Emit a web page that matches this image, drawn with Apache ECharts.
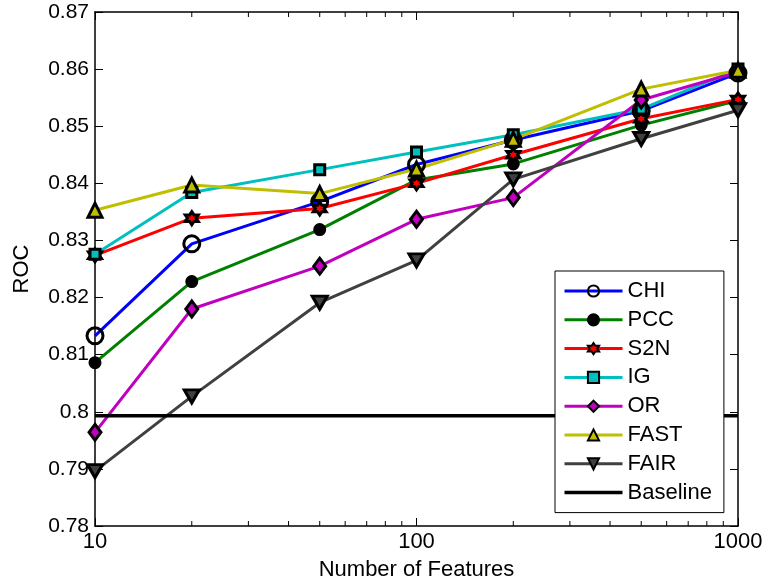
<!DOCTYPE html>
<html style="height: 100%">
<head>
<meta charset="utf-8">
<title>ROC vs Number of Features</title>
<script src="https://cdn.jsdelivr.net/npm/echarts@6/dist/echarts.min.js"></script>
</head>
<body style="height: 100%; margin: 0; background-color: #fff;">
<div id="container" style="width: 769px; height: 586px;"></div>
<script type="text/javascript">
// data
var features = [10, 20, 50, 100, 200, 500, 1000];
var chi  = [0.8133, 0.8294, 0.8368, 0.8433, 0.8476, 0.8527, 0.8593];
var pcc  = [0.8086, 0.8228, 0.8319, 0.8406, 0.8434, 0.8502, 0.8545];
var s2n  = [0.8274, 0.8339, 0.8356, 0.8400, 0.8450, 0.8513, 0.8547];
var ig   = [0.8276, 0.8384, 0.8424, 0.8455, 0.8485, 0.8530, 0.8600];
var or   = [0.7964, 0.8180, 0.8255, 0.8337, 0.8375, 0.8546, 0.8595];
var fast = [0.8353, 0.8397, 0.8382, 0.8425, 0.8477, 0.8565, 0.8598];
var fair = [0.7896, 0.8027, 0.8191, 0.8265, 0.8407, 0.8478, 0.8528];
var baseline = 0.7993;
var minorTicks = [20, 30, 40, 50, 60, 70, 80, 90, 200, 300, 400, 500, 600, 700, 800, 900];

var FONT = 'Liberation Sans';
var dom = document.getElementById('container');
var myChart = echarts.init(dom);

function pairs(ys) {
    var out = [];
    for (var i = 0; i < features.length; i++) out.push([features[i], ys[i]]);
    return out;
}

var star = 'path://M0,-10 L2.887,-5 L8.66,-5 L5.774,0 L8.66,5 L2.887,5 L0,10 L-2.887,5 L-8.66,5 L-5.774,0 L-8.66,-5 L-2.887,-5 Z';
var downTri = 'path://M0,0 L10,0 L5,8.66 Z';

function lineSeries(name, ys, color, symbol, size, fill) {
    return {
        name: name,
        type: 'line',
        data: pairs(ys),
        symbol: symbol,
        symbolSize: size,
        showAllSymbol: true,
        lineStyle: { color: color, width: 3 },
        itemStyle: { color: fill || color, borderColor: '#000', borderWidth: 3 },
        emphasis: { disabled: true },
        animation: false
    };
}

var option = {
    animation: false,
    grid: { left: 95, right: 31, top: 12, bottom: 60 },
    legend: {
        orient: 'vertical',
        left: 555,
        top: 271,
        width: 170,
        padding: [9, 12, 9, 8],
        itemWidth: 58,
        itemHeight: 14,
        itemGap: 6.8,
        backgroundColor: '#fff',
        borderColor: '#000',
        borderWidth: 1,
        lineStyle: { width: 3 },
        textStyle: { fontFamily: FONT, fontSize: 22, color: '#000' },
        data: ['CHI', 'PCC', 'S2N', 'IG', 'OR', 'FAST', 'FAIR',
               { name: 'Baseline', icon: 'path://M0,0 L100,0 L100,6 L0,6 Z' }]
    },
    xAxis: [{
        type: 'log',
        logBase: 10,
        min: 10,
        max: 1000,
        name: 'Number of Features',
        nameLocation: 'middle',
        nameGap: 33,
        nameTextStyle: { fontFamily: FONT, fontSize: 22, color: '#000', verticalAlign: 'top' },
        axisLine: { lineStyle: { color: '#000', width: 1.5 } },
        axisTick: { inside: true, length: 8, lineStyle: { color: '#000' } },
        axisLabel: {
            fontFamily: FONT, fontSize: 22, color: '#000', margin: 5,
            formatter: function (v) { return String(Math.round(v)); }
        },
        splitLine: { show: false }
    }, {
        type: 'log',
        logBase: 10,
        min: 10,
        max: 1000,
        position: 'top',
        axisLine: { lineStyle: { color: '#000', width: 1.5 } },
        axisTick: { inside: true, length: 8, lineStyle: { color: '#000' } },
        axisLabel: { show: false },
        splitLine: { show: false }
    }],
    yAxis: [{
        type: 'value',
        min: 0.78,
        max: 0.87,
        interval: 0.01,
        name: 'ROC',
        nameLocation: 'middle',
        nameGap: 62,
        nameTextStyle: { fontFamily: FONT, fontSize: 22, color: '#000' },
        axisLine: { show: true, lineStyle: { color: '#000', width: 1.5 } },
        axisTick: { show: true, inside: true, length: 8, lineStyle: { color: '#000' } },
        axisLabel: {
            fontFamily: FONT, fontSize: 21, color: '#000', margin: 6,
            formatter: function (v) { return String(+v.toFixed(2)); }
        },
        splitLine: { show: false }
    }, {
        type: 'value',
        min: 0.78,
        max: 0.87,
        interval: 0.01,
        position: 'right',
        axisLine: { show: true, lineStyle: { color: '#000', width: 1.5 } },
        axisTick: { show: true, inside: true, length: 8, lineStyle: { color: '#000' } },
        axisLabel: { show: false },
        splitLine: { show: false }
    }],
    series: [
        {
            name: 'minor',
            type: 'custom',
            silent: true,
            data: minorTicks.map(function (v) { return [v]; }),
            renderItem: function (params, api) {
                var b = api.coord([api.value(0), 0.78]);
                var t = api.coord([api.value(0), 0.87]);
                var st = { stroke: '#000', lineWidth: 1 };
                return {
                    type: 'group',
                    children: [
                        { type: 'line', shape: { x1: b[0], y1: b[1], x2: b[0], y2: b[1] - 5 }, style: st },
                        { type: 'line', shape: { x1: t[0], y1: t[1], x2: t[0], y2: t[1] + 5 }, style: st }
                    ]
                };
            }
        },
        lineSeries('CHI', chi, '#0000ff', 'circle', 16, 'rgba(0,0,0,0)'),
        lineSeries('PCC', pcc, '#008000', 'circle', 10, '#000'),
        lineSeries('S2N', s2n, '#ff0000', star, 13),
        lineSeries('IG', ig, '#00bfbf', 'rect', 10),
        lineSeries('OR', or, '#bf00bf', 'diamond', [12, 16]),
        lineSeries('FAST', fast, '#bfbf00', 'triangle', 14),
        lineSeries('FAIR', fair, '#404040', downTri, [15, 13]),
        {
            name: 'Baseline',
            type: 'line',
            data: [[10, baseline], [1000, baseline]],
            symbol: 'none',
            lineStyle: { color: '#000', width: 3.5 },
            itemStyle: { color: '#000' },
            emphasis: { disabled: true }
        }
    ]
};

myChart.setOption(option);
</script>
</body>
</html>
